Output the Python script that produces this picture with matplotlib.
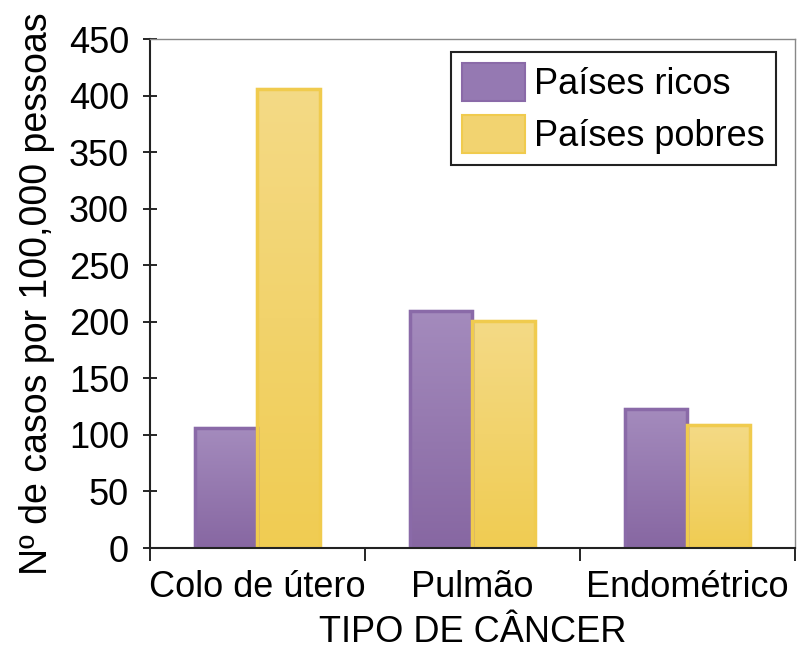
import numpy as np
import matplotlib
matplotlib.use("Agg")
import matplotlib.pyplot as plt
from matplotlib.colors import LinearSegmentedColormap

# Data
categories = ["Colo de útero", "Pulmão", "Endométrico"]
ricos = [106, 210, 123]
pobres = [406, 201, 109]
series_labels = ["Países ricos", "Países pobres"]
yticks = list(range(0, 451, 50))

plt.rcParams["font.family"] = ["Liberation Sans", "DejaVu Sans"]

fig = plt.figure(figsize=(7.97, 6.52), dpi=100)
ax = fig.add_axes([0.188, 0.1595, 0.8095, 0.7805])

x = np.arange(len(categories))
width = 0.29

bars_r = ax.bar(x - width/2, ricos, width, color="#9579B2", edgecolor="#8A6AA8",
                linewidth=1.5, label=series_labels[0], zorder=2)
bars_p = ax.bar(x + width/2, pobres, width, color="#F2D370", edgecolor="#F0CB4E",
                linewidth=1.5, label=series_labels[1], zorder=2)

# vertical gradient inside each bar
cm_r = LinearSegmentedColormap.from_list("r", ["#8767A2", "#A48BBD"])
cm_p = LinearSegmentedColormap.from_list("p", ["#F0CC52", "#F4DA86"])
grad = np.linspace(0, 1, 256).reshape(-1, 1)
for bars, cm in [(bars_r, cm_r), (bars_p, cm_p)]:
    for b in bars:
        x0, y0 = b.get_x(), b.get_y()
        w, h = b.get_width(), b.get_height()
        im = ax.imshow(grad, cmap=cm, aspect="auto", origin="lower",
                       extent=[x0, x0 + w, y0, y0 + h], zorder=2.1)
        im.set_clip_path(b)
        ax.add_patch(plt.Rectangle((x0, y0), w, h, fill=False,
                                   edgecolor=b.get_edgecolor(), linewidth=2.5, zorder=2.2))

ax.set_xlim(-0.5, 2.5)
ax.set_ylim(0, 450)
ax.set_yticks(yticks)
ax.tick_params(axis="y", direction="inout", length=10, width=1.2, labelsize=26, pad=10)

# boundary ticks on x, category labels as minor ticks
ax.set_xticks([-0.5, 0.5, 1.5, 2.5])
ax.set_xticklabels([])
ax.tick_params(axis="x", which="major", direction="out", length=9, width=1.2)
ax.set_xticks(x, minor=True)
ax.set_xticklabels(categories, minor=True)
ax.tick_params(axis="x", which="minor", length=0, labelsize=26, pad=16)

for s in ["left", "bottom"]:
    ax.spines[s].set_linewidth(1.5)
    ax.spines[s].set_color("#222222")
for s in ["top", "right"]:
    ax.spines[s].set_linewidth(1.0)
    ax.spines[s].set_color("#888888")

ax.set_xlabel("TIPO DE CÂNCER", fontsize=26, labelpad=7)
ax.set_ylabel("Nº de casos por 100,000 pessoas", fontsize=27, labelpad=10)

leg = ax.legend(loc="upper right", bbox_to_anchor=(0.97, 0.975), fontsize=26,
                frameon=True, fancybox=False, edgecolor="#222222",
                handlelength=1.75, handleheight=1.25, handletextpad=0.25,
                labelspacing=0.35, borderpad=0.3, borderaxespad=0)
leg.get_frame().set_linewidth(1.5)
leg.get_frame().set_alpha(1)
leg.legend_handles[0].set_facecolor("#9579B2")
leg.legend_handles[1].set_facecolor("#F2D370")

plt.savefig("out.png", dpi=100)
plt.close()
